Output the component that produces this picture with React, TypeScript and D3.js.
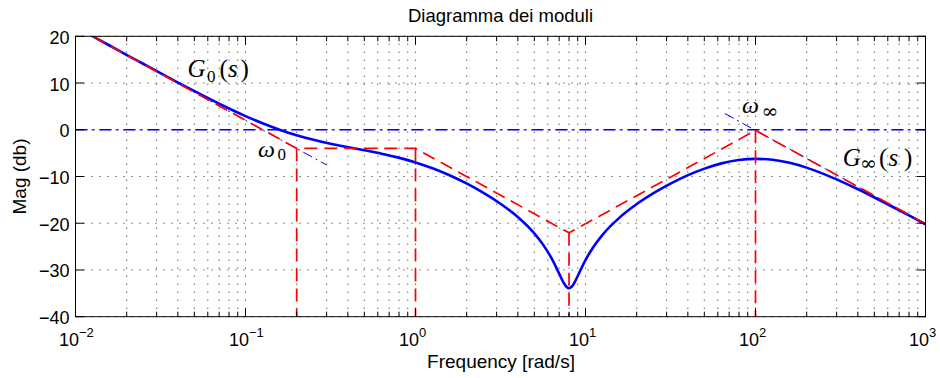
import React from 'react';
import * as d3 from 'd3';

// Bode magnitude curve
const curveFreq = [0.01, 0.01259, 0.01585, 0.01995, 0.02512, 0.03162, 0.03981, 0.05012, 0.0631, 0.07943,
  0.1, 0.1259, 0.1585, 0.1995, 0.2512, 0.3162, 0.3981, 0.5012, 0.631, 0.7943,
  1, 1.259, 1.585, 1.995, 2.512, 3.162, 3.981, 5.012, 5.6, 6.31, 6.5, 7, 7.5, 7.75, 7.943, 8, 8.25, 8.5, 9, 9.5,
  10, 11, 12.59, 15.85, 19.95, 25.12, 31.62, 39.81, 50.12, 63.1, 79.43,
  100, 125.9, 158.5, 199.5, 251.2, 316.2, 398.1, 501.2, 631, 794.3, 1000];
const curveMag = [22.01, 20.02, 18.03, 16.04, 14.07, 12.1, 10.16, 8.25, 6.39, 4.61,
  2.93, 1.38, 0.01, -1.18, -2.16, -2.99, -3.7, -4.39, -5.11, -5.96,
  -6.99, -8.25, -9.74, -11.49, -13.5, -15.84, -18.63, -22.23, -24.47, -27.49, -28.37, -30.77, -32.95, -33.65, -33.89, -33.9, -33.66, -33.05, -31.29, -29.49,
  -27.9, -25.34, -22.48, -18.8, -15.95, -13.58, -11.53, -9.77, -8.31, -7.19, -6.48,
  -6.22, -6.43, -7.08, -8.1, -9.43, -10.98, -12.68, -14.49, -16.36, -18.28, -20.23];

// Asymptotic (red dashed) diagram
const asymFreq = [0.01, 0.2, 1, 8, 100, 1000];
const asymMag = [22.02, -4, -4, -22.06, -0.13, -20.13];
// Corner frequencies (vertical red dashed drops)
const cornerFreq = [0.2, 1, 8, 100];
const cornerMag = [-4, -4, -22.06, -0.13];
// Blue dash-dot guide lines
const g0AsymFreq = [0.01, 0.3];
const g0AsymMag = [22.02, -7.54];
const gInfAsymFreq = [66, 1000];
const gInfAsymMag = [3.48, -20.13];
const zeroFreq = [0.01, 1000];
const zeroMag = [0, 0];

const yTicks = [20, 10, 0, -10, -20, -30, -40];
const xDecades = [-2, -1, 0, 1, 2, 3];
const xExpLabels = ['\u22122', '\u22121', '0', '1', '2', '3'];

const W = 940, H = 378;
const L = 75.5, R = 925.5, T = 36.3, B = 316.7;

const zip = (f: number[], m: number[]) => f.map((v, i) => [v, m[i]] as [number, number]);

export default function App() {
  const x = d3.scaleLog().domain([0.01, 1000]).range([L, R]);
  const y = d3.scaleLinear().domain([-40, 20]).range([B, T]);
  const line = d3.line<[number, number]>().x(d => x(d[0])).y(d => y(d[1]));
  const smooth = d3.line<[number, number]>().x(d => x(d[0])).y(d => y(d[1])).curve(d3.curveMonotoneX);
  const allTicks = x.ticks();
  const majors = xDecades.map(e => Math.pow(10, e));
  const minors = allTicks.filter(t => !majors.some(m => Math.abs(m - t) / m < 1e-6));
  const fmt = (v: number) => (v < 0 ? '\u2212' + Math.abs(v) : String(v));
  const gridStyle = { stroke: '#222', strokeWidth: 1, strokeDasharray: '1 7', fill: 'none' };
  const sans = 'Liberation Sans, Arial, Helvetica, sans-serif';
  const serif = 'Liberation Serif, Times New Roman, serif';

  return (
    <svg width={W} height={H} style={{ position: 'absolute', left: 0, top: 0, background: '#fff' }}>
      <defs>
        <clipPath id="plot">
          <rect x={L} y={T} width={R - L} height={B - T} />
        </clipPath>
      </defs>
      <rect x={0} y={0} width={W} height={H} fill="#fff" />
      {/* grid */}
      <g>
        {allTicks.map((t, i) => (
          <line key={'gx' + i} x1={x(t)} x2={x(t)} y1={B} y2={T} style={gridStyle} />
        ))}
        {yTicks.map((v, i) => (
          <line key={'gy' + i} x1={L} x2={R} y1={y(v)} y2={y(v)} style={gridStyle} />
        ))}
      </g>
      <g clipPath="url(#plot)">
        <path d={line(zip(zeroFreq, zeroMag)) || ''} stroke="#0000ff" strokeWidth={1.6} fill="none" strokeDasharray="12 5 2 5" />
        <path d={line(zip(g0AsymFreq, g0AsymMag)) || ''} stroke="#0000ff" strokeWidth={1} fill="none" strokeDasharray="10 4 2 4" />
        <path d={line(zip(gInfAsymFreq, gInfAsymMag)) || ''} stroke="#0000ff" strokeWidth={1} fill="none" strokeDasharray="10 4 2 4" />
        <path d={smooth(zip(curveFreq, curveMag)) || ''} stroke="#0000ff" strokeWidth={2.6} fill="none" strokeLinejoin="round" />
        <path d={line(zip(asymFreq, asymMag)) || ''} stroke="#ff0000" strokeWidth={1.7} fill="none" strokeDasharray="13 7" />
        {cornerFreq.map((f, i) => (
          <line key={'cv' + i} x1={x(f)} x2={x(f)} y1={y(cornerMag[i])} y2={B} stroke="#ff0000" strokeWidth={1.7} strokeDasharray="13 7" />
        ))}
      </g>
      {/* box */}
      <rect x={L} y={T} width={R - L} height={B - T} fill="none" stroke="#000" strokeWidth={1} />
      {/* ticks */}
      <g stroke="#000" strokeWidth={1}>
        {majors.map((t, i) => (
          <g key={'mt' + i}>
            <line x1={x(t)} x2={x(t)} y1={B} y2={B - 8.5} />
            <line x1={x(t)} x2={x(t)} y1={T} y2={T + 8.5} />
          </g>
        ))}
        {minors.map((t, i) => (
          <g key={'nt' + i}>
            <line x1={x(t)} x2={x(t)} y1={B} y2={B - 5} />
            <line x1={x(t)} x2={x(t)} y1={T} y2={T + 5} />
          </g>
        ))}
        {yTicks.map((v, i) => (
          <g key={'yt' + i}>
            <line x1={L} x2={L + 8.5} y1={y(v)} y2={y(v)} />
            <line x1={R} x2={R - 8.5} y1={y(v)} y2={y(v)} />
          </g>
        ))}
      </g>
      {/* tick labels */}
      <g fontFamily={sans} fill="#000">
        {yTicks.map((v, i) => (
          <text key={'yl' + i} x={69.5} y={y(v) + 7.5} fontSize={18} textAnchor="end">{fmt(v)}</text>
        ))}
        {majors.map((t, i) => (
          <g key={'xl' + i}>
            <text x={x(t) - 6.5} y={345.7} fontSize={18} textAnchor="middle">10</text>
            <text x={x(t) + 3.5} y={336.7} fontSize={13} textAnchor="start">{xExpLabels[i]}</text>
          </g>
        ))}
      </g>
      {/* title and axis labels */}
      <text x={500.5} y={22} fontFamily={sans} fontSize={18.5} textAnchor="middle">Diagramma dei moduli</text>
      <text x={501} y={368} fontFamily={sans} fontSize={19} textAnchor="middle">Frequency [rad/s]</text>
      <text transform="translate(26,176.5) rotate(-90)" fontFamily={sans} fontSize={19} textAnchor="middle">Mag (db)</text>
      {/* annotations */}
      <text fontFamily={serif} fontSize={25} fill="#000">
        <tspan x={187.5} y={77.3} fontStyle="italic">G</tspan>
        <tspan x={207} y={81.5} fontSize={17}>0</tspan>
        <tspan x={219.5} y={77.3}>(</tspan>
        <tspan x={228} y={77.3} fontStyle="italic">s</tspan>
        <tspan x={240.5} y={77.3}>)</tspan>
      </text>
      <text fontFamily={serif} fontSize={24} fill="#000">
        <tspan x={258} y={156.7} fontStyle="italic">ω</tspan>
        <tspan x={277.5} y={160} fontSize={17}>0</tspan>
      </text>
      <text fontFamily={serif} fontSize={24} fill="#000">
        <tspan x={742} y={113.3} fontStyle="italic">ω</tspan>
        <tspan x={761.5} y={117.5} fontSize={20} fontFamily="DejaVu Serif">∞</tspan>
      </text>
      <text fontFamily={serif} fontSize={25} fill="#000">
        <tspan x={842.7} y={165.7} fontStyle="italic">G</tspan>
        <tspan x={860} y={170} fontSize={20} fontFamily="DejaVu Serif">∞</tspan>
        <tspan x={879} y={165.7}>(</tspan>
        <tspan x={888.5} y={165.7} fontStyle="italic">s</tspan>
        <tspan x={904} y={165.7}>)</tspan>
      </text>
    </svg>
  );
}
